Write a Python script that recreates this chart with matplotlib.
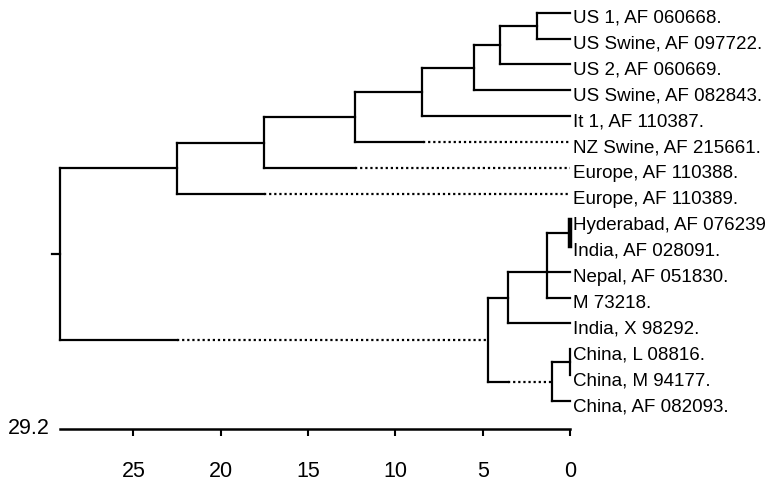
import numpy as np
import matplotlib
matplotlib.use("Agg")
import matplotlib.pyplot as plt

# =====================================================
# DATA
# =====================================================
LEAVES = [
    "US 1, AF 060668.",
    "US Swine, AF 097722.",
    "US 2, AF 060669.",
    "US Swine, AF 082843.",
    "It 1, AF 110387.",
    "NZ Swine, AF 215661.",
    "Europe, AF 110388.",
    "Europe, AF 110389.",
    "Hyderabad, AF 076239",
    "India, AF 028091.",
    "Nepal, AF 051830.",
    "M 73218.",
    "India, X 98292.",
    "China, L 08816.",
    "China, M 94177.",
    "China, AF 082093.",
]

# internal nodes: name, children (leaf index or node name), height
NODE_NAMES    = ["a", "b", "c", "d", "e", "f", "g", "h", "i", "j", "k", "l", "m", "root"]
NODE_CHILDREN = [[0, 1], ["a", 2], ["b", 3], ["c", 4], ["d", 5], ["e", 6], ["f", 7],
                 [8, 9], ["h", 10, 11], ["i", 12], [13, 14], ["k", 15], ["j", "l"],
                 ["g", "m"]]
NODE_HEIGHTS  = [1.9, 4.0, 5.5, 8.5, 12.3, 17.55, 22.5,
                 0.0, 1.33, 3.55, 0.0, 1.05, 4.7, 29.2]

# branches drawn dotted from this height on (towards the child)
DOTTED_CHILD = [5, 6, 7, "m", "l"]
DOTTED_FROM  = [8.4, 12.3, 17.5, 22.5, 3.55]

SCALE_MAX   = 29.2
SCALE_TICKS = [0, 5, 10, 15, 20, 25]

# =====================================================
# LAYOUT
# =====================================================
W, H = 770, 483
PX_PER_UNIT = 17.46
X_ZERO_PX   = 570
Y_FIRST_PX  = 12.7
Y_STEP_PX   = 25.9
AXIS_Y      = (429 - Y_FIRST_PX) / Y_STEP_PX
LW          = 1.6

plt.rcParams["font.family"] = ["Liberation Sans", "DejaVu Sans"]

fig = plt.figure(figsize=(W / 100, H / 100), dpi=100)
ax = fig.add_axes([0, 0, 1, 1])
ax.set_xlim(X_ZERO_PX / PX_PER_UNIT, -(W - X_ZERO_PX) / PX_PER_UNIT)
ax.set_ylim((H - Y_FIRST_PX) / Y_STEP_PX, -Y_FIRST_PX / Y_STEP_PX)

# ----- positions -----
ypos = {i: float(i) for i in range(len(LEAVES))}
xpos = {i: 0.0 for i in range(len(LEAVES))}
for name, kids, h in zip(NODE_NAMES, NODE_CHILDREN, NODE_HEIGHTS):
    ys = [ypos[k] for k in kids]
    if len(kids) > 2:
        ypos[name] = ys[len(ys) // 2]
    else:
        ypos[name] = (min(ys) + max(ys)) / 2
    xpos[name] = h

dotted = dict(zip(DOTTED_CHILD, DOTTED_FROM))

# ----- draw tree -----
for name, kids, h in zip(NODE_NAMES, NODE_CHILDREN, NODE_HEIGHTS):
    ys = [ypos[k] for k in kids]
    vlw = 3.2 if name == "h" else LW
    ax.plot([h, h], [min(ys), max(ys)], color="black", lw=vlw,
            solid_capstyle="projecting")
    for k in kids:
        y = ypos[k]
        if k in dotted:
            d = dotted[k]
            ax.plot([h, d], [y, y], color="black", lw=LW, solid_capstyle="projecting")
            ax.plot([d, xpos[k]], [y, y], color="black", lw=LW,
                    linestyle=(0, (1, 1.3)))
        else:
            ax.plot([h, xpos[k]], [y, y], color="black", lw=LW,
                    solid_capstyle="projecting")

# small stub at root
ax.plot([SCALE_MAX, SCALE_MAX + 0.45], [ypos["root"], ypos["root"]],
        color="black", lw=LW)

# ----- leaf labels -----
for i, lab in enumerate(LEAVES):
    ax.text(-0.2, i + 0.22, lab, ha="left", va="center", fontsize=13.5)

# ----- scale axis -----
for s in ["top", "right", "left"]:
    ax.spines[s].set_visible(False)
ax.spines["bottom"].set_position(("data", AXIS_Y))
ax.spines["bottom"].set_bounds(0, SCALE_MAX)
ax.spines["bottom"].set_linewidth(1.8)
ax.set_yticks([])
ax.set_xticks(SCALE_TICKS)
ax.set_xticklabels([str(t) for t in SCALE_TICKS])
ax.tick_params(axis="x", direction="out", length=5, width=1.5,
               labelsize=15.5, pad=18)

ax.text(SCALE_MAX + 0.6, AXIS_Y, "29.2", ha="right", va="center", fontsize=15.5)

fig.savefig("out.png", dpi=100)
plt.close(fig)
